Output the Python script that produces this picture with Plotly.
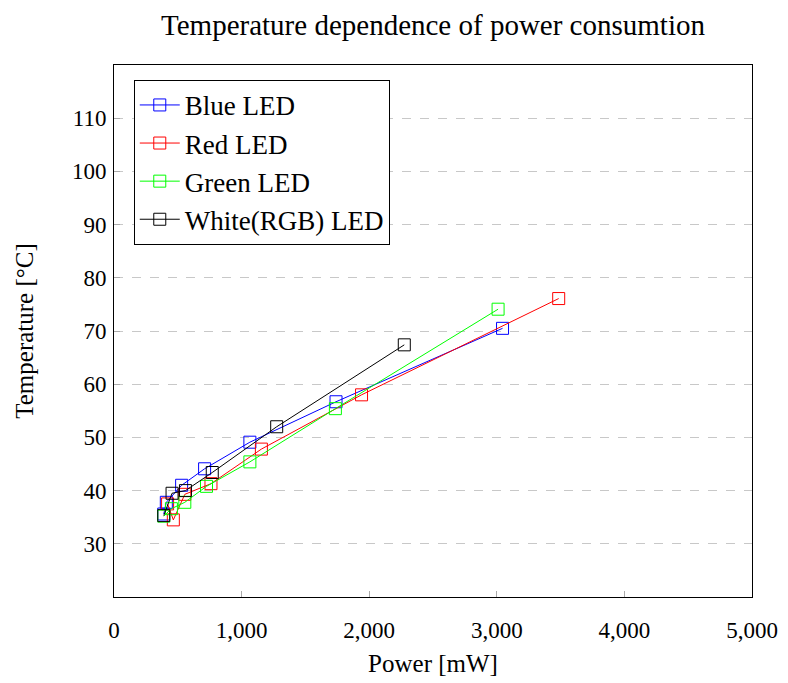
import plotly.graph_objects as go

blue_x = [390, 410, 530, 710, 1065, 1740, 3045]
blue_y = [35.6, 37.8, 41.0, 44.1, 49.1, 56.7, 70.5]
red_x = [420, 465, 555, 760, 1155, 1940, 3485]
red_y = [37.5, 34.5, 39.3, 41.3, 47.8, 58.0, 76.1]
green_x = [390, 450, 555, 725, 1065, 1735, 3010]
green_y = [35.2, 36.6, 37.8, 40.8, 45.4, 55.4, 74.1]
white_x = [390, 455, 560, 770, 1275, 2275]
white_y = [35.3, 39.5, 40.0, 43.4, 52.0, 67.4]

series = [
    ("Blue LED", blue_x, blue_y, "#0000ff"),
    ("Red LED", red_x, red_y, "#ff0000"),
    ("Green LED", green_x, green_y, "#00ff00"),
    ("White(RGB) LED", white_x, white_y, "#000000"),
]

FONT = "Liberation Serif"

fig = go.Figure()
for name, xs, ys, col in series:
    fig.add_trace(go.Scatter(
        x=xs, y=ys, name=name, mode="lines+markers",
        line=dict(color=col, width=1),
        marker=dict(symbol="square-open", size=12, color=col, line=dict(width=1)),
    ))

fig.update_layout(
    width=788, height=683,
    paper_bgcolor="white", plot_bgcolor="white",
    margin=dict(l=106, r=44, t=57, b=94),
    font=dict(family=FONT, size=24, color="black"),
    title=dict(text="Temperature dependence of power consumtion", x=0.5, xref="paper",
               xanchor="center", y=0.976, yanchor="middle",
               font=dict(family=FONT, size=29)),
    showlegend=True,
    legend=dict(x=0.031, y=0.972, xanchor="left", yanchor="top",
                bordercolor="black", borderwidth=1, bgcolor="white",
                font=dict(family=FONT, size=27), itemwidth=40, tracegroupgap=0,
                entrywidth=262, entrywidthmode="pixels"),
    xaxis=dict(range=[0, 5000], tickvals=[0, 1000, 2000, 3000, 4000, 5000],
               tickformat=",d", showgrid=False, zeroline=False,
               ticks="inside", ticklen=6, tickcolor="#aaaaaa",
               showline=True, linecolor="black", linewidth=1, mirror=True,
               ticklabelstandoff=12,
               title=dict(text="Power [mW]", standoff=12, font=dict(family=FONT, size=25)),
               tickfont=dict(family=FONT, size=23)),
    yaxis=dict(range=[20, 120], tickvals=[30, 40, 50, 60, 70, 80, 90, 100, 110],
               showgrid=True, gridcolor="#c8c8c8", griddash="dash", gridwidth=1,
               zeroline=False, ticks="inside", ticklen=6, tickcolor="#aaaaaa",
               showline=True, linecolor="black", linewidth=1, mirror=True,
               ticklabelstandoff=2,
               title=dict(text="Temperature [°C]", standoff=31, font=dict(family=FONT, size=25)),
               tickfont=dict(family=FONT, size=23)),
)

fig.write_html("out.html")
